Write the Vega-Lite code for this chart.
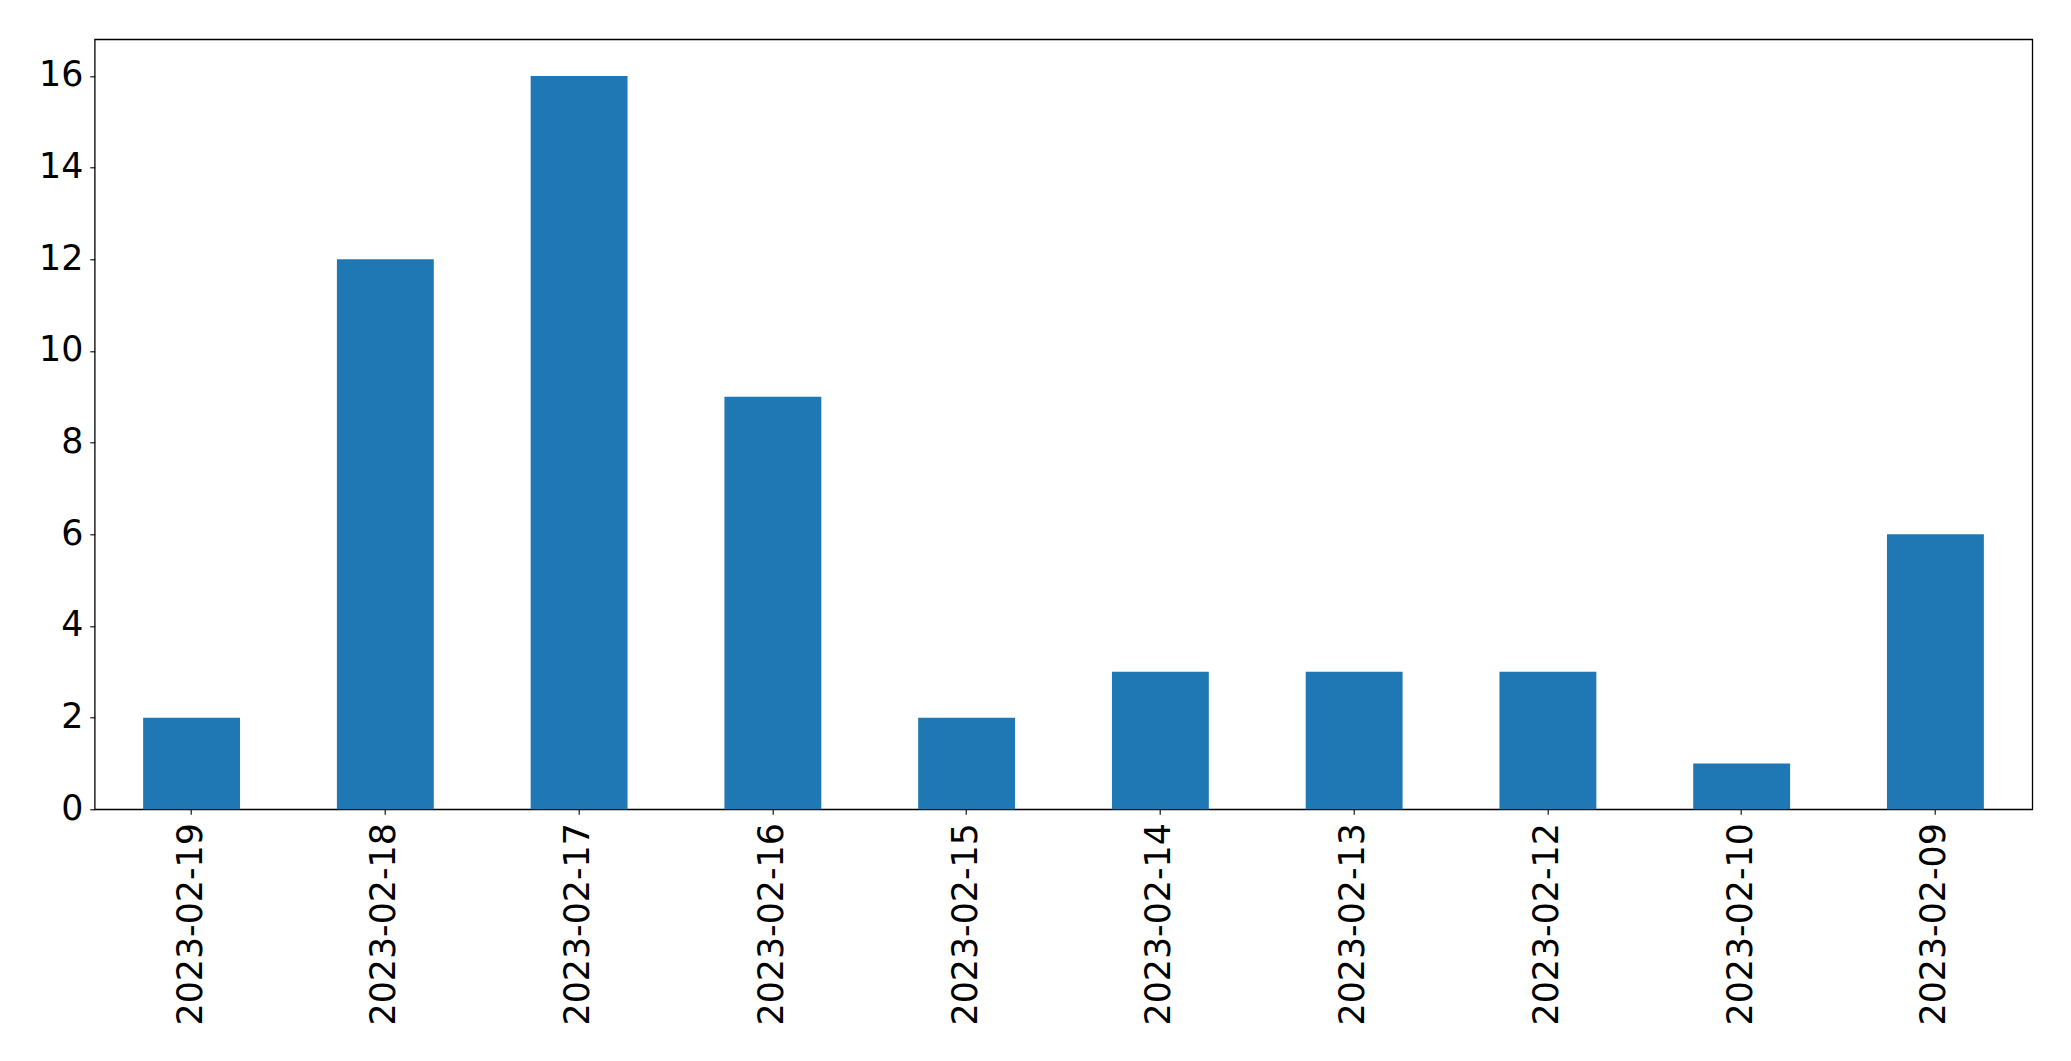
{
  "$schema": "https://vega.github.io/schema/vega-lite/v6.json",
  "autosize": {"type": "none"},
  "padding": {"left": 94.7, "top": 39.3, "right": 38.7, "bottom": 251.7},
  "width": 1937.6,
  "height": 770,
  "background": "white",
  "config": {
    "font": "DejaVu Sans",
    "view": {"stroke": "black", "strokeWidth": 1.3},
    "axis": {
      "domain": false,
      "grid": false,
      "ticks": true,
      "tickColor": "black",
      "tickSize": 4.9,
      "tickWidth": 1.1,
      "labelFont": "DejaVu Sans",
      "labelFontSize": 34.8,
      "labelColor": "black",
      "labelLimit": 0,
      "title": null
    }
  },
  "data": {
    "values": [
      {"date": "2023-02-19", "count": 2},
      {"date": "2023-02-18", "count": 12},
      {"date": "2023-02-17", "count": 16},
      {"date": "2023-02-16", "count": 9},
      {"date": "2023-02-15", "count": 2},
      {"date": "2023-02-14", "count": 3},
      {"date": "2023-02-13", "count": 3},
      {"date": "2023-02-12", "count": 3},
      {"date": "2023-02-10", "count": 1},
      {"date": "2023-02-09", "count": 6}
    ]
  },
  "mark": {"type": "bar", "color": "#1f77b4"},
  "encoding": {
    "x": {
      "field": "date",
      "type": "nominal",
      "sort": null,
      "scale": {"paddingInner": 0.5, "paddingOuter": 0.25},
      "axis": {"labelAngle": -90, "labelPadding": 8.5, "labelAlign": "right", "labelBaseline": "middle"}
    },
    "y": {
      "field": "count",
      "type": "quantitative",
      "scale": {"domain": [0, 16.8], "nice": false, "zero": true},
      "axis": {"values": [0, 2, 4, 6, 8, 10, 12, 14, 16], "labelPadding": 7}
    }
  }
}
